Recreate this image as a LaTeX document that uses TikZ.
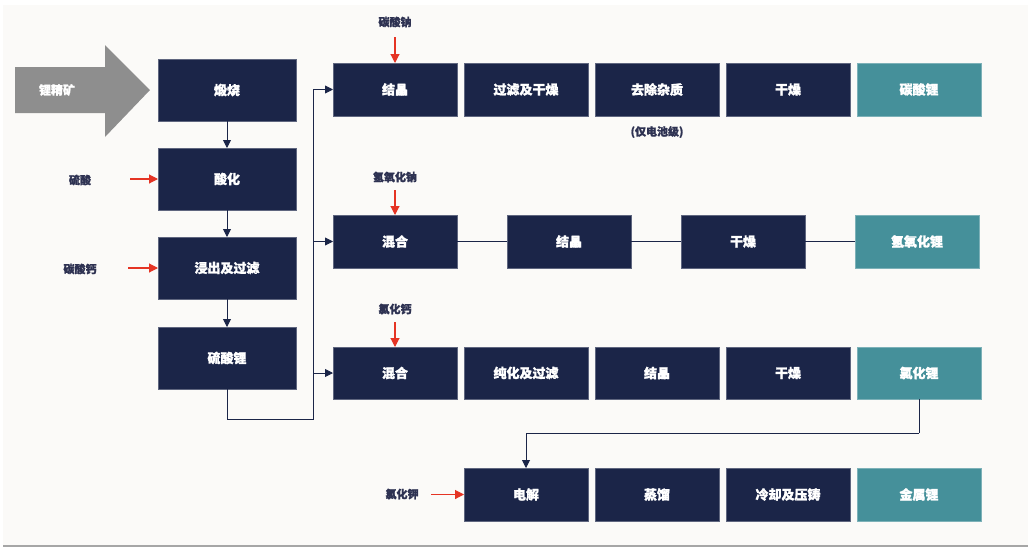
\documentclass[tikz,border=0pt]{standalone}
\usepackage{fontspec}
\usetikzlibrary{arrows.meta}
\newfontfamily\cjk{Noto Sans CJK SC}[FakeBold=1.5]
\definecolor{navy}{HTML}{1B2548}
\definecolor{teal2}{HTML}{45909A}
\definecolor{redA}{HTML}{E53424}
\definecolor{graybox}{HTML}{8E8E8E}
\definecolor{panel}{HTML}{FBFAF8}
\definecolor{labtxt}{HTML}{2E3252}
\tikzset{
  box/.style={rectangle, fill=navy, draw=navy!70!white, line width=0.6pt, text=white,
    minimum width=124pt, minimum height=53pt, inner sep=0pt, outer sep=0pt,
    font=\cjk\bfseries\fontsize{13}{15}\selectfont},
  lbox/.style={box, minimum width=138pt, minimum height=62pt},
  prod/.style={box, fill=teal2, draw=teal2!70!white},
  lab/.style={text=labtxt, inner sep=0pt, font=\cjk\bfseries\fontsize{11}{13}\selectfont},
  arr/.style={draw=navy, line width=0.9pt, -{Triangle[width=8pt,length=8pt]}},
  conn/.style={draw=navy, line width=0.9pt},
  redarr/.style={draw=redA, line width=1.1pt, -{Triangle[width=9pt,length=9pt]}},
}
\begin{document}
\begin{tikzpicture}[x=1pt,y=-1pt]
\useasboundingbox (0,0) rectangle (1028,549);
\fill[white] (0,0) rectangle (1028,549);
\fill[panel] (3,5) rectangle (1028,545);
\draw[gray!70, line width=1.5pt] (3,546) -- (1028,546);

% gray input arrow
\fill[graybox] (15,67) -- (105,67) -- (105,45) -- (150,90) -- (105,137) -- (105,113) -- (15,113) -- cycle;
\node[text=white, inner sep=0pt, font=\cjk\bfseries\fontsize{12}{14}\selectfont] (ore) at (57,90) {锂精矿};

% left column
\node[lbox] (s1) at (227,90) {煅烧};
\node[lbox] (s2) at (227,179) {酸化};
\node[lbox] (s3) at (227,268) {浸出及过滤};
\node[lbox] (s4) at (227,358) {硫酸锂};
\draw[arr] (s1) -- (s2);
\draw[arr] (s2) -- (s3);
\draw[arr] (s3) -- (s4);

\node[lab] (l1) at (80,180) {硫酸};
\node[lab] (l2) at (80,269) {碳酸钙};
\coordinate (l1s) at (130,179);
\coordinate (l2s) at (128,268);
\draw[redarr] (l1s) -- (s2.west);
\draw[redarr] (l2s) -- (s3.west);

% row 1
\node[box] (r1a) at (395,89.5) {结晶};
\node[box] (r1b) at (526,89.5) {过滤及干燥};
\node[box] (r1c) at (657,89.5) {去除杂质};
\node[box] (r1d) at (788,89.5) {干燥};
\node[prod] (r1e) at (919,89.5) {碳酸锂};
\node[lab] (note) at (657,132) {(仅电池级)};
\node[lab] (t1) at (395,22) {碳酸钠};
\coordinate (t1s) at (395,37);
\draw[redarr] (t1s) -- (r1a.north);

% row 2
\node[box] (r2a) at (395,241.5) {混合};
\node[box] (r2b) at (569,241.5) {结晶};
\node[box] (r2c) at (743,241.5) {干燥};
\node[prod] (r2d) at (917,241.5) {氢氧化锂};
\draw[conn] (r2a) -- (r2b);
\draw[conn] (r2b) -- (r2c);
\draw[conn] (r2c) -- (r2d);
\node[lab] (t2) at (395,177) {氢氧化钠};
\coordinate (t2s) at (395,190);
\draw[redarr] (t2s) -- (r2a.north);

% row 3
\node[box, minimum height=52pt] (r3a) at (395,373) {混合};
\node[box, minimum height=52pt] (r3b) at (526,373) {纯化及过滤};
\node[box, minimum height=52pt] (r3c) at (657,373) {结晶};
\node[box, minimum height=52pt] (r3d) at (788,373) {干燥};
\node[prod, minimum height=52pt] (r3e) at (919,373) {氯化锂};
\node[lab] (t3) at (395,309) {氯化钙};
\coordinate (t3s) at (395,322);
\draw[redarr] (t3s) -- (r3a.north);

% row 4
\node[box] (r4a) at (526,494.5) {电解};
\node[box] (r4b) at (657,494.5) {蒸馏};
\node[box] (r4c) at (788,494.5) {冷却及压铸};
\node[prod] (r4d) at (919,494.5) {金属锂};
\node[lab] (t4) at (402,494) {氯化钾};
\coordinate (t4s) at (431,494.5);
\draw[redarr] (t4s) -- (r4a.west);

% bus from lithium sulfate
\coordinate (busB) at (313,419);
\coordinate (busT) at (313,89.5);
\draw[conn] (s4.south) |- (busB) -- (busT);
\draw[arr] (busT) -- (r1a.west);
\draw[arr] (r2a.west -| busB) -- (r2a.west);
\draw[arr] (r3a.west -| busB) -- (r3a.west);

% lithium chloride to electrolysis
\coordinate (elb) at (919,433);
\draw[conn] (r3e.south) -- (elb);
\draw[arr] (elb) -| (r4a.north);
\end{tikzpicture}
\end{document}
